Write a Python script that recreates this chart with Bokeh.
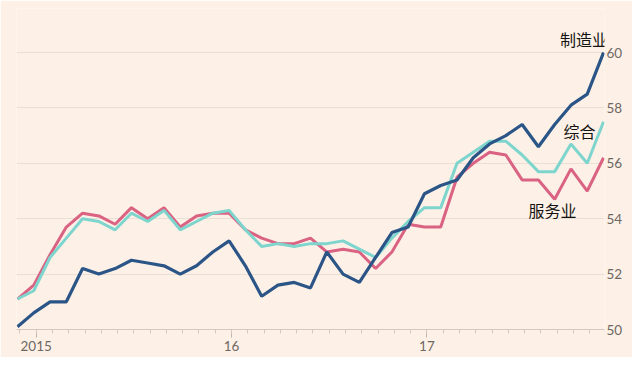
from bokeh.plotting import figure
from bokeh.models import FixedTicker, Range1d, Label
from bokeh.embed import file_html
from bokeh.resources import INLINE

# Monthly data, Nov 2014 .. Nov 2017 (month offset relative to Jan 2015)
month_offsets = list(range(-2, 35))
manufacturing = [50.1, 50.6, 51.0, 51.0, 52.2, 52.0, 52.2, 52.5, 52.4, 52.3, 52.0, 52.3, 52.8, 53.2,
                 52.3, 51.2, 51.6, 51.7, 51.5, 52.8, 52.0, 51.7, 52.6, 53.5, 53.7, 54.9,
                 55.2, 55.4, 56.2, 56.7, 57.0, 57.4, 56.6, 57.4, 58.1, 58.5, 60.0]
services = [51.1, 51.6, 52.7, 53.7, 54.2, 54.1, 53.8, 54.4, 54.0, 54.4, 53.7, 54.1, 54.2, 54.2,
            53.6, 53.3, 53.1, 53.1, 53.3, 52.8, 52.9, 52.8, 52.2, 52.8, 53.8, 53.7,
            53.7, 55.5, 56.0, 56.4, 56.3, 55.4, 55.4, 54.7, 55.8, 55.0, 56.2]
composite = [51.1, 51.4, 52.6, 53.3, 54.0, 53.9, 53.6, 54.2, 53.9, 54.3, 53.6, 53.9, 54.2, 54.3,
             53.6, 53.0, 53.1, 53.0, 53.1, 53.1, 53.2, 52.9, 52.6, 53.3, 53.9, 54.4,
             54.4, 56.0, 56.4, 56.8, 56.8, 56.3, 55.7, 55.7, 56.7, 56.0, 57.5]
year_ticks = [0, 12, 24]
year_labels = ["2015", "16", "17"]
y_ticks = [50, 52, 54, 56, 58, 60]

BG = "#fdf1e7"
BLUE = "#2b5587"
PINK = "#da6283"
TEAL = "#7dd5ce"
GRAY = "#6e6863"

LAG = 0.85  # points plotted near month end
xs = [m + LAG for m in month_offsets]

p = figure(width=632, height=357,
           x_range=Range1d(xs[0] - 0.06, xs[-1] + 0.06),
           y_range=Range1d(50, 61.59),
           output_backend="svg", toolbar_location=None,
           y_axis_location="right",
           min_border_left=16, min_border_right=28, min_border_top=8, min_border_bottom=28,
           background_fill_color=BG, border_fill_color=BG, outline_line_color=None)

p.line(xs, services, line_color=PINK, line_width=3)
p.line(xs, composite, line_color=TEAL, line_width=3)
p.line(xs, manufacturing, line_color=BLUE, line_width=3.2)

# x axis
xa = p.xaxis[0]
xa.ticker = FixedTicker(ticks=year_ticks, minor_ticks=list(range(-1, 36)))
xa.major_label_overrides = {t: l for t, l in zip(year_ticks, year_labels)}
xa.axis_line_color = "#d3c9bf"
xa.major_tick_line_color = "#bfb5ac"
xa.minor_tick_line_color = "#d3c9bf"
xa.major_tick_in = 0
xa.major_tick_out = 8
xa.minor_tick_in = 0
xa.minor_tick_out = 4
xa.major_label_standoff = 3
xa.major_label_text_font = "Lato"
xa.major_label_text_font_size = "13.5px"
xa.major_label_text_color = GRAY

# y axis (right)
ya = p.yaxis[0]
ya.ticker = FixedTicker(ticks=y_ticks)
ya.axis_line_color = None
ya.major_tick_line_color = None
ya.minor_tick_line_color = None
ya.major_tick_in = 0
ya.major_tick_out = 0
ya.major_label_standoff = 2
ya.major_label_text_font = "Lato"
ya.major_label_text_font_size = "13.5px"
ya.major_label_text_color = GRAY

p.xgrid.visible = False
p.ygrid.ticker = FixedTicker(ticks=y_ticks)
p.ygrid.grid_line_color = "#eadfd4"
p.ygrid.grid_line_width = 1

for txt, x, y in [("制造业", 34.8 - 1.15, 60.5), ("综合", 34.52 - 1.15, 57.18), ("服务业", 32.86 - 1.15, 54.3)]:
    p.add_layout(Label(x=x, y=y, text=txt, text_align="center", text_baseline="middle",
                       text_font="Noto Sans CJK SC", text_font_size="16px",
                       text_color="#141312"))

open("out.html", "w").write(file_html(p, INLINE))
